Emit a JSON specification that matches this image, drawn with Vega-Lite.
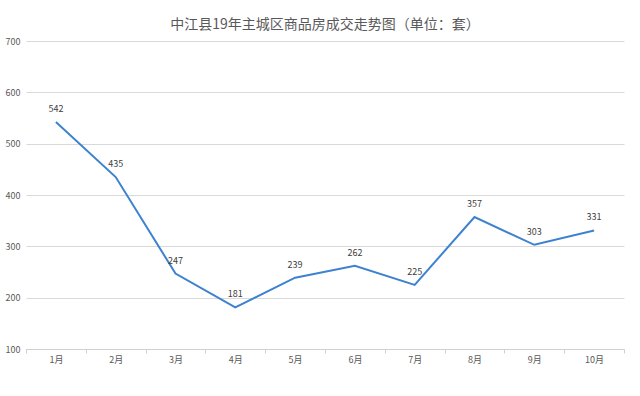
{
  "$schema": "https://vega.github.io/schema/vega-lite/v6.json",
  "autosize": {"type": "none"},
  "width": 598,
  "height": 308,
  "padding": {"left": 26, "top": 41, "right": 16, "bottom": 47},
  "background": "#ffffff",
  "title": {
    "text": "中江县19年主城区商品房成交走势图（单位：套）",
    "font": "Noto Sans CJK SC",
    "fontSize": 14,
    "fontWeight": "normal",
    "color": "#595959",
    "offset": 5,
    "anchor": "middle"
  },
  "config": {
    "view": {"stroke": null},
    "font": "Noto Sans CJK SC"
  },
  "data": {
    "values": [
      {"month": "1月", "count": 542},
      {"month": "2月", "count": 435},
      {"month": "3月", "count": 247},
      {"month": "4月", "count": 181},
      {"month": "5月", "count": 239},
      {"month": "6月", "count": 262},
      {"month": "7月", "count": 225},
      {"month": "8月", "count": 357},
      {"month": "9月", "count": 303},
      {"month": "10月", "count": 331}
    ]
  },
  "encoding": {
    "x": {
      "field": "month",
      "type": "ordinal",
      "sort": null,
      "scale": {"type": "band", "paddingInner": 0, "paddingOuter": 0},
      "axis": {
        "title": null,
        "labelAngle": 0,
        "tickBand": "extent",
        "domainColor": "#d0d0d0",
        "domainWidth": 1,
        "tickColor": "#d0d0d0",
        "tickSize": 4,
        "labelFontSize": 9,
        "labelColor": "#595959",
        "labelPadding": 2,
        "grid": false
      }
    },
    "y": {
      "field": "count",
      "type": "quantitative",
      "scale": {"domain": [100, 700], "nice": false, "zero": false},
      "axis": {
        "title": null,
        "values": [100, 200, 300, 400, 500, 600, 700],
        "domain": false,
        "ticks": false,
        "labelFontSize": 9,
        "labelColor": "#595959",
        "labelPadding": 6,
        "gridColor": "#d9d9d9",
        "gridWidth": 1
      }
    }
  },
  "layer": [
    {
      "mark": {"type": "line", "color": "#3d82d0", "strokeWidth": 2}
    },
    {
      "mark": {"type": "text", "dy": -13, "fontSize": 9, "color": "#404040"},
      "encoding": {"text": {"field": "count", "type": "quantitative"}}
    }
  ]
}
